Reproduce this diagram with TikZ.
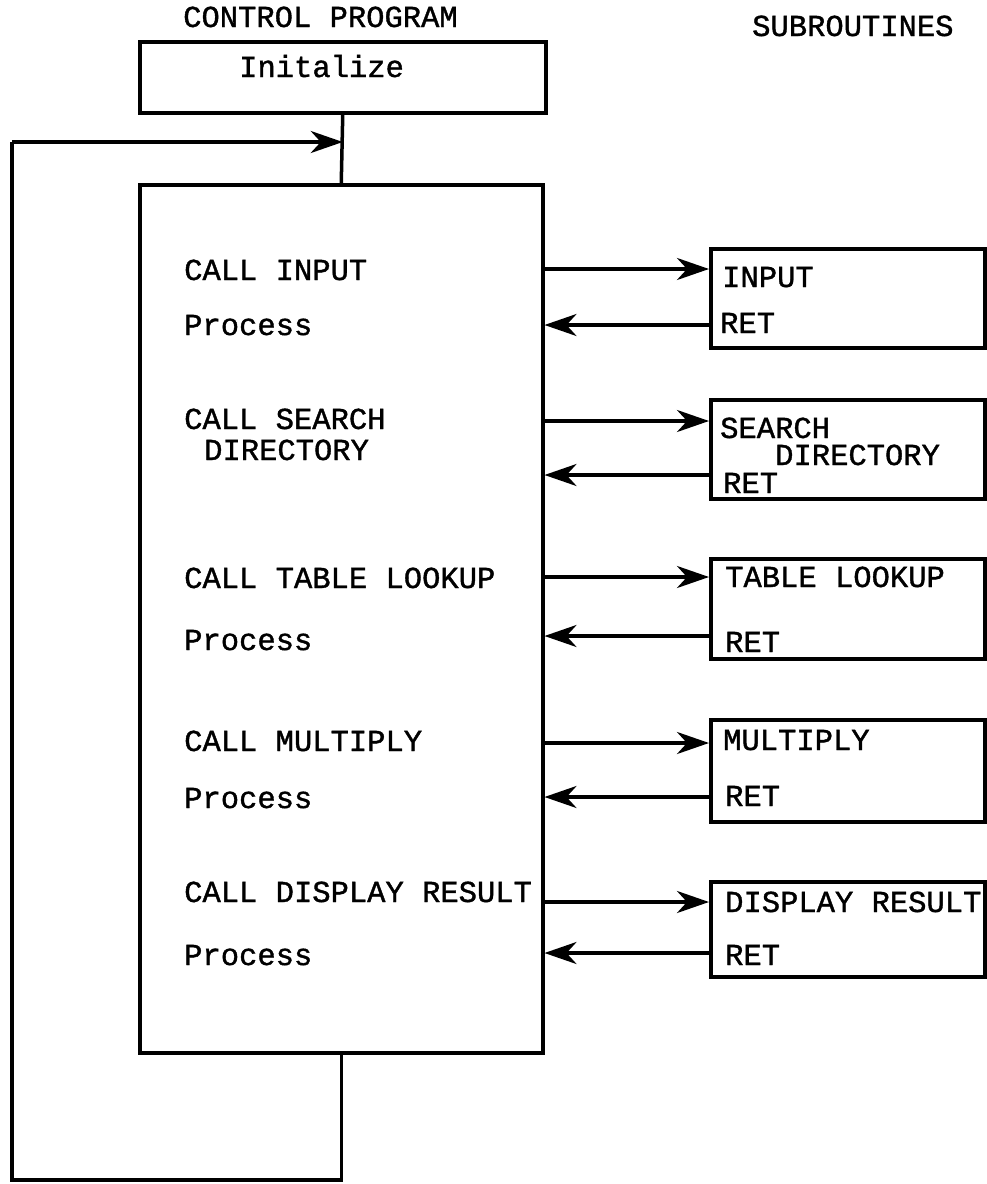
\documentclass[tikz,border=0pt]{standalone}
\usepackage{fontspec}
\newfontfamily\tw[FakeBold=1.2]{Liberation Mono}
\usetikzlibrary{arrows.meta}
\begin{document}
\begin{tikzpicture}[x=1pt,y=-1pt,
  ln/.style={line width=3.5pt},
  box/.style={draw,line width=3.5pt,inner sep=0pt,anchor=north west},
  arr/.style={ln,-{Stealth[length=32pt,width=22pt,inset=10pt]}},
  txt/.style={anchor=base west,inner sep=0pt,font=\tw\fontsize{30.5}{34}\selectfont}]
\useasboundingbox (0,0) rectangle (986,1184);
% title texts
\node[txt] (tcp) at (183,27) {CONTROL PROGRAM};
\node[txt] (tsub) at (752,36) {SUBROUTINES};
% control program boxes
\node[box,minimum width=406pt,minimum height=71pt] (init) at (138,40) {};
\node[txt] (tinit) at (239,77) {Initalize};
\node[box,minimum width=403pt,minimum height=868pt] (main) at (138,183) {};
% subroutine boxes
\node[box,minimum width=274pt,minimum height=99pt] (sInput) at (709,247) {};
\node[box,minimum width=274pt,minimum height=99pt] (sSearch) at (709,398) {};
\node[box,minimum width=274pt,minimum height=100pt] (sTable) at (709,557) {};
\node[box,minimum width=274pt,minimum height=102pt] (sMult) at (709,718) {};
\node[box,minimum width=274pt,minimum height=95pt] (sDisp) at (709,880) {};
% main box texts
\node[txt] (m1) at (184,280) {CALL INPUT};
\node[txt] (m2) at (184,335) {Process};
\node[txt] (m3) at (184,429) {CALL SEARCH};
\node[txt] (m3b) at (204,460) {DIRECTORY};
\node[txt] (m4) at (184,588) {CALL TABLE LOOKUP};
\node[txt] (m5) at (184,650) {Process};
\node[txt] (m6) at (184,751) {CALL MULTIPLY};
\node[txt] (m7) at (184,808) {Process};
\node[txt] (m8) at (184,902) {CALL DISPLAY RESULT};
\node[txt] (m9) at (184,965) {Process};
% subroutine texts
\node[txt] (s1) at (722,287) {INPUT};
\node[txt] (s1r) at (720,333) {RET};
\node[txt,text depth=0pt] (s2) at (720,438) {SEARCH};
\node[txt,text depth=0pt] (s2b) at (775,465) {DIRECTORY};
\node[txt] (s2r) at (723,493) {RET};
\node[txt] (s3) at (725,587) {TABLE LOOKUP};
\node[txt] (s3r) at (725,652) {RET};
\node[txt] (s4) at (723,750) {MULTIPLY};
\node[txt] (s4r) at (725,806) {RET};
\node[txt] (s5) at (725,912) {DISPLAY RESULT};
\node[txt] (s5r) at (725,965) {RET};
% arrow levels
\coordinate (c1) at (0,269);  \coordinate (r1) at (0,325);
\coordinate (c2) at (0,421);  \coordinate (r2) at (0,475);
\coordinate (c3) at (0,577);  \coordinate (r3) at (0,636);
\coordinate (c4) at (0,743);  \coordinate (r4) at (0,797);
\coordinate (c5) at (0,902);  \coordinate (r5) at (0,953);
\draw[arr] (main.east |- c1) -- (sInput.west |- c1);
\draw[arr] (sInput.west |- r1) -- (main.east |- r1);
\draw[arr] (main.east |- c2) -- (sSearch.west |- c2);
\draw[arr] (sSearch.west |- r2) -- (main.east |- r2);
\draw[arr] (main.east |- c3) -- (sTable.west |- c3);
\draw[arr] (sTable.west |- r3) -- (main.east |- r3);
\draw[arr] (main.east |- c4) -- (sMult.west |- c4);
\draw[arr] (sMult.west |- r4) -- (main.east |- r4);
\draw[arr] (main.east |- c5) -- (sDisp.west |- c5);
\draw[arr] (sDisp.west |- r5) -- (main.east |- r5);
% init to main and loop
\draw[ln] (init.south) -- (main.north);
\coordinate (lb) at (12,1180);
\coordinate (lt) at (12,142);
\draw[ln] (main.south) |- (lb) -- (lt);
\draw[arr] (lt) -- (init.south |- lt);
\end{tikzpicture}
\end{document}
